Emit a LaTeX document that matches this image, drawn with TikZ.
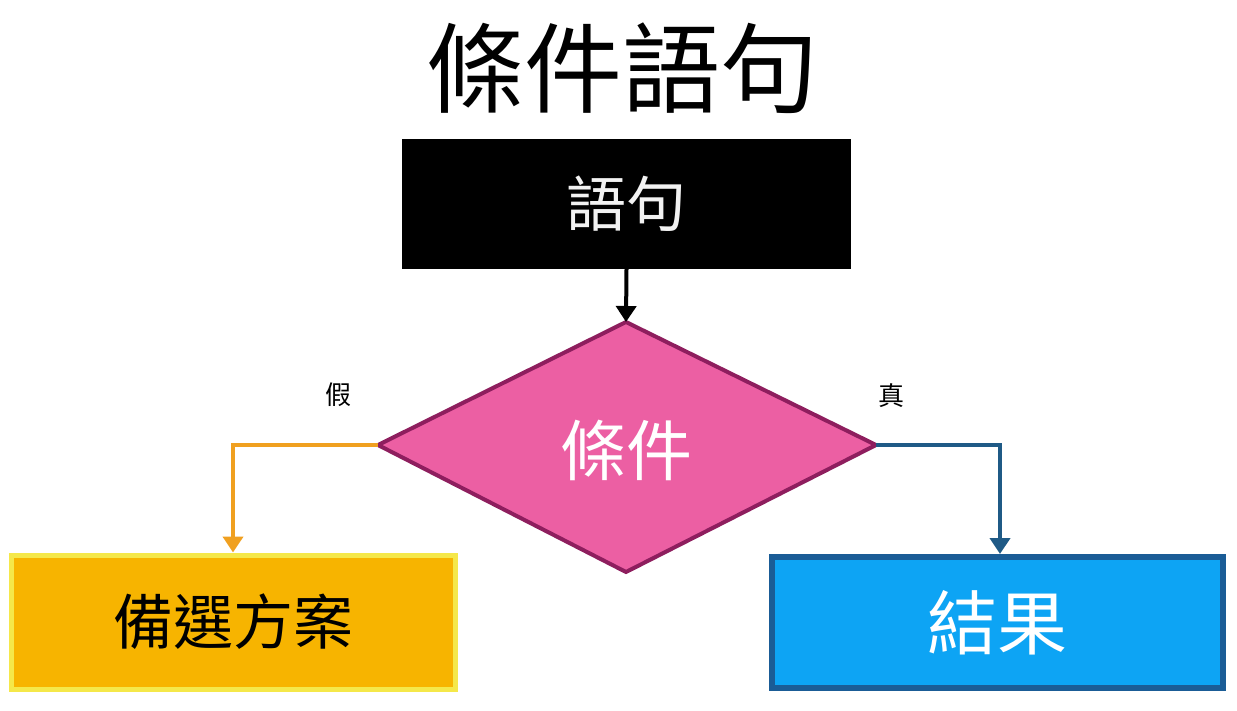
\documentclass[tikz,border=0pt]{standalone}
\usepackage{fontspec}
\newfontfamily\cjk{Noto Sans CJK TC}
\usetikzlibrary{arrows.meta}
\definecolor{pinkf}{HTML}{EC5FA3}
\definecolor{pinkd}{HTML}{8E1E5E}
\definecolor{orng}{HTML}{F7B400}
\definecolor{orngd}{HTML}{F5E84A}
\definecolor{orarr}{HTML}{F0A020}
\definecolor{bluef}{HTML}{0DA4F4}
\definecolor{blued}{HTML}{1A5C96}
\definecolor{barr}{HTML}{1F5A86}
\begin{document}
\begin{tikzpicture}[x=1pt,y=-1pt,
  lbl/.style={font=\cjk\fontsize{26}{30}\selectfont},
  conn/.style={line width=4pt,-{Triangle[length=16pt,width=20pt]}}]
\useasboundingbox (0,0) rectangle (1237,711);
\node[font=\cjk\fontsize{98}{110}\selectfont] (title) at (622,68) {條件語句};
\node[fill=black,minimum width=449pt,minimum height=130pt,inner sep=0,text=white!90!gray,font=\cjk\fontsize{60}{70}\selectfont] (stmt) at (626.5,204) {語句};
\coordinate (dt) at (626,322);
\coordinate (dl) at (378,445);
\coordinate (dr) at (876,445);
\coordinate (db) at (626,572);
\draw[fill=pinkf,draw=pinkd,line width=4pt] (dt)--(dr)--(db)--(dl)--cycle;
\node[text=white,font=\cjk\fontsize{66}{76}\selectfont] (cond) at (626,450) {條件};
\node[fill=orng,draw=orngd,line width=5pt,minimum width=444pt,minimum height=134pt,inner sep=0,font=\cjk\fontsize{60}{70}\selectfont] (alt) at (233.5,622) {備選方案};
\node[fill=bluef,draw=blued,line width=6pt,minimum width=451pt,minimum height=131pt,inner sep=0,text=white,font=\cjk\fontsize{70}{80}\selectfont] (res) at (997.5,622.5) {結果};
\draw[conn] (stmt.south) -- (dt);
\draw[conn,orarr] (dl) -| ([xshift=-0.5pt]alt.north);
\draw[conn,barr] (dr) -| ([xshift=2.5pt]res.north);
\node[lbl] (f) at (338,395) {假};
\node[lbl] (t) at (891,396) {真};
\end{tikzpicture}
\end{document}
